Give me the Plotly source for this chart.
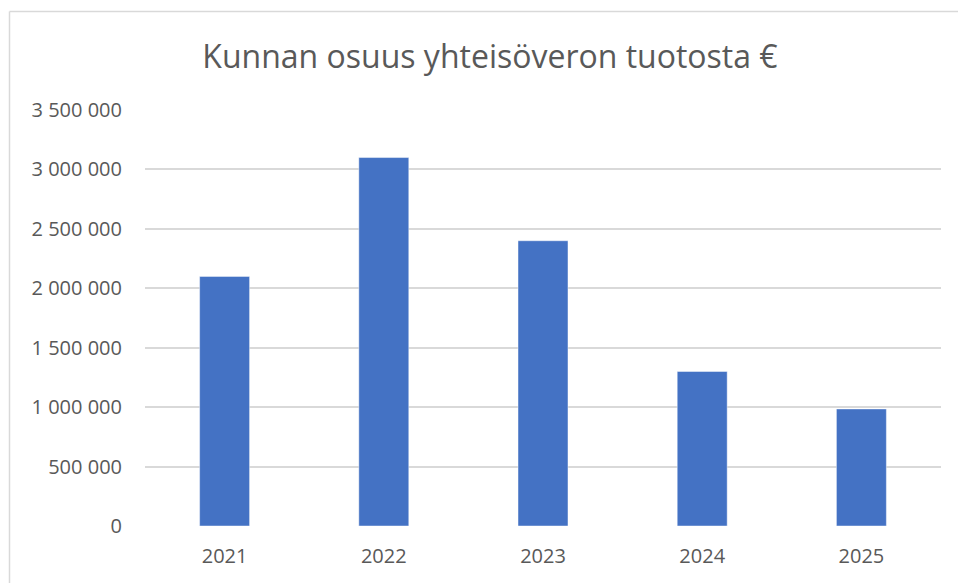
import plotly.graph_objects as go

years = ["2021", "2022", "2023", "2024", "2025"]
values = [2100000, 3100000, 2400000, 1300000, 985000]
tick_vals = [0, 500000, 1000000, 1500000, 2000000, 2500000, 3000000, 3500000]
title_text = "Kunnan osuus yhteisöveron tuotosta €"

W, H = 958, 583
ml, mr, mt, mb = 145, 17, 110, 57
pw = W - ml - mr
ph = H - mt - mb

fig = go.Figure(go.Bar(
    x=years, y=values,
    marker=dict(color="#4472C4", line=dict(color="rgba(255,255,255,0.45)", width=1)),
    hoverinfo="x+y",
))

def px_x(p):
    return (p - ml) / pw

def px_y(p):
    return (H - mb - p) / ph

border = "#d9d9d9"
fig.add_shape(type="line", xref="paper", yref="paper",
              x0=px_x(9.5), x1=px_x(W + 5), y0=px_y(11.5), y1=px_y(11.5),
              line=dict(color=border, width=1.5))
fig.add_shape(type="line", xref="paper", yref="paper",
              x0=px_x(9.5), x1=px_x(9.5), y0=px_y(11.5), y1=px_y(H + 5),
              line=dict(color=border, width=1.5))

fig.update_layout(
    width=W, height=H,
    margin=dict(l=ml, r=mr, t=mt, b=mb),
    paper_bgcolor="white", plot_bgcolor="white",
    separators=", ",
    font=dict(family="Open Sans, sans-serif", color="#595959", size=20),
    title=dict(text=title_text, x=490 / W, xref="container", xanchor="center",
               y=1 - 57 / H, yanchor="middle",
               font=dict(size=32, color="#595959")),
    bargap=0.686,
    showlegend=False,
    xaxis=dict(showgrid=False, showline=False, ticks="", tickfont=dict(size=20),
               ticklabelstandoff=16),
    yaxis=dict(range=[0, 3500000], tickvals=tick_vals, tickformat=",d",
               showgrid=True, gridcolor="#d9d9d9", gridwidth=1.5,
               zeroline=False, showline=False, ticks="",
               tickfont=dict(size=20), ticklabelstandoff=22),
)

fig.write_html("out.html")
